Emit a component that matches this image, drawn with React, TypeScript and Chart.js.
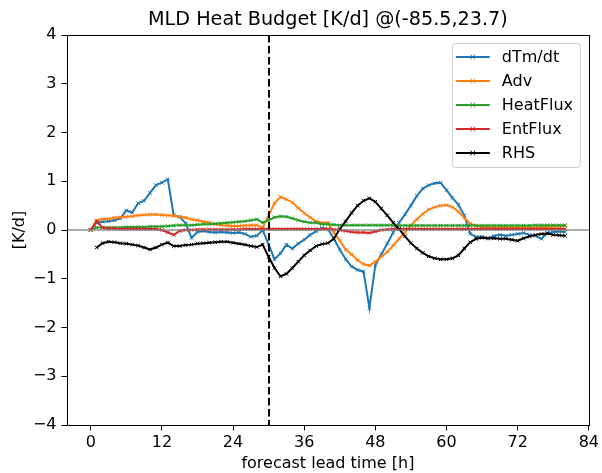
import React, { useEffect, useRef } from "react";
import { Chart, registerables } from "chart.js";

Chart.register(...registerables);

const FONT = "'DejaVu Sans', sans-serif";
const TEXT_SIZE = 16;
const TITLE_SIZE = 19.2;

// Forecast lead time in hours (x values shared by every series)
const leadHours = [
  0, 1, 2, 3, 4, 5, 6, 7, 8, 9, 10, 11, 12, 13, 14, 15, 16, 17, 18, 19, 20,
  21, 22, 23, 24, 25, 26, 27, 28, 29, 30, 31, 32, 33, 34, 35, 36, 37, 38, 39, 40,
  41, 42, 43, 44, 45, 46, 47, 48, 49, 50, 51, 52, 53, 54, 55, 56, 57, 58, 59, 60,
  61, 62, 63, 64, 65, 66, 67, 68, 69, 70, 71, 72, 73, 74, 75, 76, 77, 78, 79, 80,
];

// Mixed-layer temperature tendency [K/d]
const dTmdt = [
  0, 0.15, 0.17, 0.18, 0.2, 0.24, 0.4, 0.36, 0.55, 0.6, 0.76,
  0.92, 0.97, 1.04, 0.3, 0.27, 0.14, -0.16, -0.04, -0.02, -0.04,
  -0.05, -0.04, -0.05, -0.06, -0.05, -0.08, -0.14, -0.12, 0.0, -0.3,
  -0.6, -0.48, -0.3, -0.38, -0.28, -0.2, -0.1, -0.03, 0.04, 0.02,
  -0.18, -0.4, -0.6, -0.75, -0.82, -0.85, -1.6, -0.72, -0.5, -0.28,
  -0.05, 0.15, 0.32, 0.5, 0.7, 0.85, 0.92, 0.96, 0.97, 0.82,
  0.66, 0.52, 0.3, -0.08, -0.14, -0.14, -0.17, -0.12, -0.1, -0.12,
  -0.1, -0.08, -0.06, -0.1, -0.12, -0.18, -0.06, -0.04, -0.03, -0.04,
];

// Advection term
const adv = [
  0, 0.2, 0.22, 0.23, 0.25, 0.26, 0.27, 0.28, 0.3, 0.31, 0.32,
  0.32, 0.31, 0.3, 0.29, 0.27, 0.25, 0.22, 0.2, 0.17, 0.15,
  0.12, 0.1, 0.09, 0.08, 0.08, 0.09, 0.1, 0.1, 0.05, 0.3,
  0.55, 0.68, 0.63, 0.57, 0.45, 0.35, 0.26, 0.18, 0.15, 0.15,
  -0.05, -0.22, -0.4, -0.5, -0.62, -0.7, -0.73, -0.65, -0.55, -0.45,
  -0.32, -0.18, -0.05, 0.1, 0.22, 0.33, 0.42, 0.47, 0.5, 0.51,
  0.47, 0.38, 0.25, 0.13, 0.08, 0.06, 0.06, 0.05, 0.05, 0.06,
  0.05, 0.05, 0.06, 0.05, 0.05, 0.06, 0.06, 0.07, 0.07, 0.08,
];

// Surface heat flux term
const heatFlux = [
  0, 0.05, 0.05, 0.05, 0.05, 0.05, 0.06, 0.06, 0.06, 0.06, 0.07,
  0.07, 0.07, 0.08, 0.09, 0.1, 0.1, 0.1, 0.11, 0.12, 0.12,
  0.13, 0.14, 0.15, 0.16, 0.17, 0.18, 0.2, 0.22, 0.15, 0.2,
  0.26, 0.28, 0.27, 0.24, 0.2, 0.17, 0.15, 0.15, 0.12, 0.12,
  0.11, 0.1, 0.1, 0.1, 0.1, 0.1, 0.1, 0.1, 0.1, 0.1,
  0.09, 0.09, 0.09, 0.09, 0.09, 0.09, 0.09, 0.09, 0.09, 0.09,
  0.09, 0.09, 0.09, 0.09, 0.09, 0.09, 0.09, 0.09, 0.09, 0.09,
  0.09, 0.09, 0.09, 0.09, 0.1, 0.1, 0.1, 0.1, 0.1, 0.1,
];

// Entrainment flux term
const entFlux = [
  0, 0.18, 0.05, 0.03, 0.03, 0.02, 0.02, 0.02, 0.02, 0.02, 0.02,
  0.02, 0.0, -0.05, -0.1, -0.02, 0.0, 0.0, 0.01, 0.01, 0.01,
  0.01, 0.01, 0.01, 0.01, 0.01, 0.02, 0.02, 0.02, 0.02, 0.02,
  0.02, 0.02, 0.02, 0.02, 0.02, 0.02, 0.02, 0.02, 0.02, 0.02,
  0.01, 0.0, -0.02, -0.04, -0.05, -0.05, -0.06, -0.03, 0.0, 0.01,
  0.02, 0.02, 0.02, 0.02, 0.02, 0.02, 0.02, 0.02, 0.02, 0.02,
  0.02, 0.02, 0.02, 0.02, 0.02, 0.02, 0.02, 0.02, 0.02, 0.02,
  0.02, 0.02, 0.02, 0.02, 0.02, 0.02, 0.02, 0.02, 0.02, 0.02,
];

// Sum of the budget terms (no value at the initial hour)
const rhs = [
  null, -0.36, -0.27, -0.24, -0.25, -0.27, -0.28, -0.3, -0.32, -0.36, -0.4,
  -0.36, -0.3, -0.26, -0.33, -0.33, -0.31, -0.3, -0.28, -0.27, -0.26,
  -0.25, -0.24, -0.24, -0.26, -0.28, -0.3, -0.33, -0.35, -0.3, -0.55,
  -0.78, -0.95, -0.9, -0.78, -0.65, -0.52, -0.42, -0.33, -0.29, -0.27,
  -0.18, 0.02, 0.18, 0.35, 0.5, 0.6, 0.65, 0.58, 0.44, 0.3,
  0.15, 0.02, -0.13, -0.27, -0.38, -0.47, -0.54, -0.58, -0.6, -0.6,
  -0.58, -0.52, -0.38, -0.25, -0.18, -0.16, -0.17, -0.17, -0.18, -0.18,
  -0.2, -0.22, -0.17, -0.13, -0.1, -0.08, -0.07, -0.1, -0.11, -0.12,
];

const seriesNames = ["dTm/dt", "Adv", "HeatFlux", "EntFlux", "RHS"];
const seriesValues = [dTmdt, adv, heatFlux, entFlux, rhs];
const seriesColors = ["#1f77b4", "#ff7f0e", "#2ca02c", "#d62728", "#000000"];

const xTicks = [0, 12, 24, 36, 48, 60, 72, 84];
const yTicks = [-4, -3, -2, -1, 0, 1, 2, 3, 4];
const xRange = [-4, 84];
const yRange = [-4, 4];
const initHour = 30;

const chartTitle = "MLD Heat Budget [K/d] @(-85.5,23.7)";

const minusLabel = (v: number) => (v < 0 ? "\u2212" + Math.abs(v) : String(v));

function drawCross(ctx: CanvasRenderingContext2D, x: number, y: number, r: number, color: string) {
  ctx.save();
  ctx.strokeStyle = color;
  ctx.lineWidth = 1;
  ctx.beginPath();
  ctx.moveTo(x - r, y - r);
  ctx.lineTo(x + r, y + r);
  ctx.moveTo(x - r, y + r);
  ctx.lineTo(x + r, y - r);
  ctx.stroke();
  ctx.restore();
}

const decorations = {
  id: "decorations",
  afterDatasetsDraw(chart: any) {
    const { ctx, chartArea, scales } = chart;
    const { left, right, top, bottom } = chartArea;
    ctx.save();
    // zero line
    const y0 = scales.y.getPixelForValue(0);
    ctx.strokeStyle = "rgba(128,128,128,0.65)";
    ctx.lineWidth = 2;
    ctx.beginPath();
    ctx.moveTo(left, y0);
    ctx.lineTo(right, y0);
    ctx.stroke();
    // initialisation marker
    const xi = Math.round(scales.x.getPixelForValue(initHour));
    ctx.strokeStyle = "#000";
    ctx.lineWidth = 2;
    ctx.setLineDash([7.6, 3.4]);
    ctx.beginPath();
    ctx.moveTo(xi, top);
    ctx.lineTo(xi, bottom);
    ctx.stroke();
    ctx.setLineDash([]);
    ctx.restore();
  },
  afterDraw(chart: any) {
    const { ctx, chartArea } = chart;
    const { left, right, top, bottom } = chartArea;
    ctx.save();
    // frame
    ctx.strokeStyle = "#000";
    ctx.lineWidth = 1;
    ctx.strokeRect(Math.round(left) + 0.5, Math.round(top) + 0.5, Math.round(right - left), Math.round(bottom - top));

    // title
    ctx.fillStyle = "#000";
    ctx.font = `${TITLE_SIZE}px ${FONT}`;
    ctx.textAlign = "center";
    ctx.textBaseline = "alphabetic";
    ctx.fillText(chartTitle, (left + right) / 2, top - 10);

    // legend
    const boxW = 128;
    const boxH = 124;
    const bx = right - 9 - boxW;
    const by = top + 8;
    ctx.fillStyle = "rgba(255,255,255,0.8)";
    ctx.strokeStyle = "#cccccc";
    ctx.lineWidth = 1;
    ctx.beginPath();
    (ctx as any).roundRect(bx + 0.5, by + 0.5, boxW, boxH, 3);
    ctx.fill();
    ctx.stroke();
    ctx.font = `${TEXT_SIZE}px ${FONT}`;
    ctx.textAlign = "left";
    ctx.textBaseline = "middle";
    seriesNames.forEach((name, i) => {
      const cy = by + 14 + i * 24;
      const color = seriesColors[i];
      ctx.strokeStyle = color;
      ctx.lineWidth = 2;
      ctx.beginPath();
      ctx.moveTo(bx + 4, cy);
      ctx.lineTo(bx + 38, cy);
      ctx.stroke();
      drawCross(ctx, bx + 21, cy, 2.4, color);
      ctx.fillStyle = "#000";
      ctx.fillText(name, bx + 50, cy + 1);
    });
    ctx.restore();
  },
};

export default function App() {
  const canvasRef = useRef<HTMLCanvasElement | null>(null);

  useEffect(() => {
    document.body.style.margin = "0";
    const canvas = canvasRef.current;
    if (!canvas) return;

    const datasets = seriesValues.map((vals, i) => ({
      label: seriesNames[i],
      data: vals.map((v, k) => ({ x: leadHours[k], y: v })),
      borderColor: seriesColors[i],
      backgroundColor: seriesColors[i],
      pointBorderColor: seriesColors[i],
      borderWidth: 2,
      pointStyle: "crossRot" as const,
      pointRadius: 2.5,
      pointBorderWidth: 1,
      pointHoverRadius: 2.5,
      tension: 0,
      spanGaps: false,
      order: seriesNames.length - 1 - i,
    }));

    const chart = new Chart(canvas, {
      type: "line",
      data: { datasets },
      plugins: [decorations],
      options: {
        animation: false,
        responsive: false,
        devicePixelRatio: 1,
        layout: { padding: { top: 35, right: 10, left: 0, bottom: 0 } },
        plugins: {
          legend: { display: false },
          title: { display: false },
          tooltip: { enabled: false },
        },
        scales: {
          x: {
            type: "linear",
            min: xRange[0],
            max: xRange[1],
            afterBuildTicks: (s: any) => {
              s.ticks = xTicks.map((v) => ({ value: v }));
            },
            afterFit: (s: any) => {
              s.height = 48;
            },
            grid: {
              drawOnChartArea: false,
              drawTicks: true,
              tickLength: 5.5,
              color: "#000",
              lineWidth: 1,
            },
            border: { display: true, color: "#000", width: 1 },
            ticks: {
              color: "#000",
              font: { family: FONT, size: TEXT_SIZE },
              padding: 3,
              maxRotation: 0,
              autoSkip: false,
              callback: (v: any) => minusLabel(Number(v)),
            },
            title: {
              display: true,
              text: "forecast lead time [h]",
              color: "#000",
              font: { family: FONT, size: TEXT_SIZE },
              padding: { top: 0, bottom: 0 },
            },
          },
          y: {
            type: "linear",
            min: yRange[0],
            max: yRange[1],
            afterBuildTicks: (s: any) => {
              s.ticks = yTicks.map((v) => ({ value: v }));
            },
            afterFit: (s: any) => {
              s.width = 67;
            },
            grid: {
              drawOnChartArea: false,
              drawTicks: true,
              tickLength: 5.5,
              color: "#000",
              lineWidth: 1,
            },
            border: { display: true, color: "#000", width: 1 },
            ticks: {
              color: "#000",
              font: { family: FONT, size: TEXT_SIZE },
              padding: 5,
              autoSkip: false,
              callback: (v: any) => minusLabel(Number(v)),
            },
            title: {
              display: true,
              text: "[K/d]",
              color: "#000",
              font: { family: FONT, size: TEXT_SIZE },
              padding: { top: 10, bottom: 0 },
            },
          },
        },
      },
    });

    return () => chart.destroy();
  }, []);

  return (
    <div style={{ width: 602, height: 473 }}>
      <canvas ref={canvasRef} width={602} height={473} style={{ display: "block" }} />
    </div>
  );
}
